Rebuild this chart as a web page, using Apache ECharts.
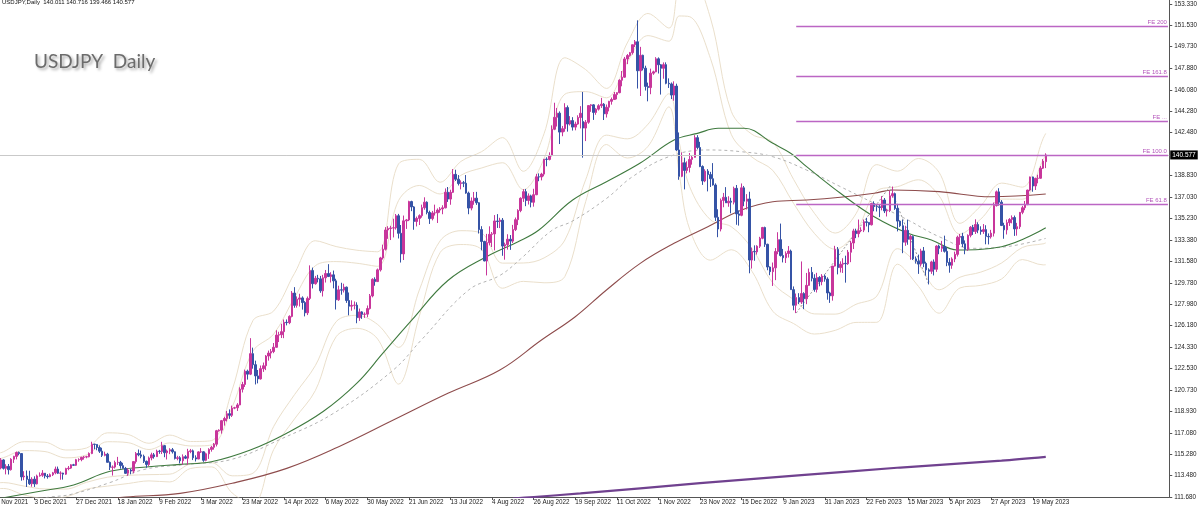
<!DOCTYPE html>
<html><head><meta charset="utf-8">
<script src="https://cdn.jsdelivr.net/npm/echarts@6/dist/echarts.min.js"></script>
<style>html,body{margin:0;padding:0;background:#fff;overflow:hidden}#c{width:1210px;height:512px;margin-left:-10px}</style>
</head><body><div id="c"></div>
<script>
// ---- candles [open, high, low, close], one row per bar (broker daily bars) ----
const nov21=[[113.91,114.16,113.78,114.06],[114.06,114.30,113.77,113.87],[113.87,114.20,113.66,114.13],[114.13,114.97,114.02,114.81],[114.81,114.87,114.00,114.10],[114.10,114.45,113.59,114.27],[114.27,114.47,113.58,113.99],[113.99,114.96,113.91,114.87],[114.87,115.16,114.56,115.11],[115.11,115.52,114.86,115.44],[115.44,115.52,115.20,115.35],[115.35,115.37,113.06,113.38],[113.38,113.86,113.10,113.45],[113.45,113.92,112.53,113.17]];
const dec21=[[113.17,113.90,112.70,112.80],[112.80,113.35,112.55,113.19],[113.19,113.43,112.53,112.79],[112.79,113.57,112.74,113.46],[113.46,113.76,113.40,113.52],[113.52,113.95,113.38,113.69],[113.69,113.70,113.25,113.45],[113.45,113.62,113.23,113.40],[113.40,113.67,113.35,113.56],[113.56,113.80,113.45,113.72],[113.72,114.25,113.60,114.04],[114.04,114.25,113.62,113.69],[113.69,113.85,113.14,113.70],[113.70,113.73,113.15,113.61],[113.61,114.15,113.55,114.08],[114.08,114.30,113.94,114.12],[114.12,114.45,114.05,114.40],[114.40,114.48,114.30,114.36],[114.36,114.90,114.30,114.83],[114.83,114.95,114.66,114.84],[114.84,115.08,114.70,115.03],[115.03,115.15,114.84,115.06],[115.06,115.16,114.95,115.08]];
const jan22=[[115.08,115.45,115.03,115.35],[115.35,116.35,115.30,116.14],[116.14,116.18,115.71,116.12],[116.12,116.14,115.63,115.86],[115.86,116.04,115.40,115.55],[115.55,115.84,115.06,115.20],[115.20,115.51,115.12,115.30],[115.30,115.41,114.60,114.61],[114.61,114.68,113.96,114.19],[114.19,114.35,113.49,114.21],[114.21,114.75,114.09,114.59],[114.59,115.07,114.39,114.61],[114.61,114.73,114.07,114.33],[114.33,114.57,114.08,114.10],[114.10,114.22,113.63,113.68],[113.68,114.10,113.47,113.96],[113.96,114.05,113.60,113.87],[113.87,114.69,113.68,114.67],[114.67,115.48,114.50,115.35],[115.35,115.69,115.12,115.24],[115.24,115.60,114.95,115.12]];
const feb22=[[115.12,115.26,114.55,114.69],[114.69,114.76,114.15,114.43],[114.43,115.10,114.30,114.98],[114.98,115.42,114.78,115.24],[115.24,115.40,114.92,115.09],[115.09,115.68,115.07,115.55],[115.55,115.66,115.33,115.53],[115.53,116.34,115.31,116.02],[116.02,116.08,115.04,115.42],[115.42,115.69,114.85,115.57],[115.57,115.80,115.30,115.67],[115.67,115.82,115.35,115.50],[115.50,115.53,114.85,114.94],[114.94,115.16,114.78,115.00],[115.00,115.13,114.52,114.74],[114.74,115.28,114.40,115.08],[115.08,115.22,114.88,114.96],[114.96,115.75,114.41,115.53],[115.53,115.74,115.38,115.58],[115.58,115.69,114.80,114.99]];
const mar22=[[114.99,115.20,114.68,114.89],[114.89,115.55,114.88,115.49],[115.49,115.81,115.40,115.50],[115.50,115.55,114.65,114.78],[114.78,115.43,114.70,115.33],[115.33,115.80,114.90,115.70],[115.70,116.00,115.51,115.88],[115.88,116.24,115.68,116.14],[116.14,117.35,115.95,117.28],[117.28,117.40,117.20,117.33],[117.33,118.19,117.03,118.13],[118.13,118.45,117.71,118.31],[118.31,118.95,118.06,118.72],[118.72,119.08,118.28,118.58],[118.58,119.40,118.44,119.19],[119.19,119.30,119.10,119.22],[119.22,119.61,118.95,119.46],[119.46,120.95,119.43,120.79],[120.79,121.41,120.51,121.19],[121.19,122.44,120.98,122.31],[122.31,122.44,121.60,122.06],[122.06,125.10,121.98,123.79],[123.79,124.30,122.52,122.86],[122.86,123.20,121.19,121.91],[121.91,122.41,121.28,121.66]];
const apr22=[[121.66,122.79,121.60,122.52],[122.52,123.04,122.25,122.77],[122.77,123.67,122.40,123.59],[123.59,124.05,123.20,123.84],[123.84,124.18,123.39,123.97],[123.97,124.69,123.83,124.33],[124.33,125.77,124.30,125.36],[125.36,125.64,124.77,125.39],[125.39,126.32,125.11,125.65],[125.65,126.68,125.10,126.44],[126.44,126.68,126.18,126.41],[126.41,127.03,126.28,126.94],[126.94,129.08,126.86,128.91],[128.91,129.41,127.67,127.87],[127.87,128.63,127.68,128.39],[128.39,128.85,127.77,128.50],[128.50,128.63,127.51,128.11],[128.11,128.23,126.94,127.24],[127.24,128.62,127.05,128.46],[128.46,131.25,128.32,130.81],[130.81,131.06,129.30,129.70]];
const may22=[[129.70,130.36,129.62,130.16],[130.16,130.45,129.81,130.11],[130.11,130.36,128.93,129.10],[129.10,130.45,128.62,130.20],[130.20,130.86,129.80,130.56],[130.56,131.35,130.26,130.31],[130.31,130.67,129.80,130.45],[130.45,130.81,129.31,129.94],[129.94,130.12,127.52,128.34],[128.34,129.53,128.25,129.18],[129.18,129.78,128.77,129.16],[129.16,129.70,128.96,129.41],[129.41,129.46,128.08,128.28],[128.28,128.96,127.03,127.80],[127.80,128.30,127.42,127.87],[127.87,128.20,127.53,127.89],[127.89,128.13,126.36,126.83],[126.83,127.60,126.56,127.32],[127.32,127.38,126.73,127.11],[127.11,127.28,126.81,127.13],[127.13,127.86,126.87,127.60],[127.60,128.83,127.52,128.67]];
const jun22=[[128.67,130.16,128.55,130.07],[130.07,130.24,129.53,129.88],[129.88,130.98,129.85,130.87],[130.87,131.97,130.73,131.88],[131.88,133.00,131.74,132.61],[132.61,134.48,132.50,134.24],[134.24,134.56,133.49,134.36],[134.36,134.59,133.39,134.41],[134.41,135.19,133.61,134.42],[134.42,135.59,134.27,135.44],[135.44,135.60,133.52,133.96],[133.96,134.66,131.49,132.22],[132.22,135.46,131.70,135.01],[135.01,135.17,134.33,135.09],[135.09,136.71,134.99,136.64],[136.64,136.71,135.83,136.19],[136.19,136.26,134.26,134.96],[134.96,135.37,134.54,135.22],[135.22,135.56,134.66,135.45],[135.45,136.38,135.28,136.12],[136.12,137.00,135.95,136.59],[136.59,136.66,135.56,135.72]];
const jul22=[[135.72,135.87,134.75,135.20],[135.20,135.85,135.05,135.68],[135.68,136.38,135.46,135.69],[135.69,136.06,134.83,135.92],[135.92,136.17,135.70,136.02],[136.02,136.33,135.57,136.11],[136.11,137.75,136.07,137.43],[137.43,137.87,136.61,136.85],[136.85,137.64,136.37,137.42],[137.42,139.39,137.36,138.94],[138.94,139.33,138.38,138.53],[138.53,138.88,138.00,138.16],[138.16,138.43,137.67,138.23],[138.23,138.38,137.86,138.19],[138.19,138.88,137.30,137.36],[137.36,137.48,135.57,136.09],[136.09,136.99,135.90,136.69],[136.69,137.45,136.37,136.93],[136.93,137.46,136.36,136.54],[136.54,136.59,133.94,134.27],[134.27,134.56,132.52,133.27]];
const aug22=[[133.27,133.33,131.60,131.62],[131.62,133.91,130.40,133.17],[133.17,134.55,132.94,133.87],[133.87,134.07,132.80,133.91],[133.91,135.50,132.52,135.00],[135.00,135.58,134.41,134.96],[134.96,135.27,134.40,135.07],[135.07,135.25,132.06,132.88],[132.88,133.17,131.73,133.00],[133.00,133.88,132.58,133.46],[133.46,133.81,132.56,133.30],[133.30,134.67,133.14,134.27],[134.27,135.29,134.15,135.11],[135.11,135.99,134.65,135.88],[135.88,137.00,135.74,136.92],[136.92,137.69,136.61,137.48],[137.48,137.70,136.25,136.73],[136.73,137.33,136.39,137.12],[137.12,137.22,136.15,136.58],[136.58,137.72,136.21,137.22],[137.22,138.98,137.18,138.73],[138.73,139.02,138.36,138.72],[138.72,139.07,138.43,138.96]];
const sep22=[[138.96,140.23,138.77,140.22],[140.22,140.38,139.62,140.20],[140.20,140.80,140.12,140.54],[140.54,143.08,140.46,142.75],[142.75,144.99,142.67,143.76],[143.76,144.55,142.98,144.11],[144.11,144.26,141.50,142.51],[142.51,143.03,142.16,142.80],[142.80,144.95,142.54,144.58],[144.58,144.76,142.55,143.19],[143.19,143.86,143.07,143.48],[143.48,143.77,142.64,142.93],[142.93,143.39,142.66,143.19],[143.19,143.93,143.13,143.74],[143.74,144.70,142.82,144.10],[143.40,145.90,140.35,142.85],[142.85,143.53,141.75,143.34],[143.34,144.78,143.21,144.75],[144.75,144.87,144.22,144.81],[144.81,144.87,143.54,144.17],[144.17,144.53,143.97,144.45],[144.45,144.87,144.33,144.74]];
const oct22=[[144.74,145.40,144.55,144.87],[144.87,144.96,143.53,144.05],[144.05,144.84,143.74,144.61],[144.61,145.15,144.26,145.11],[145.11,145.43,144.83,145.26],[145.26,145.90,145.22,145.68],[145.68,145.88,145.28,145.84],[145.84,146.97,145.79,146.89],[146.89,147.67,146.38,147.15],[147.15,148.86,147.10,148.69],[148.69,149.10,148.25,148.98],[148.98,149.28,148.88,149.22],[149.22,149.90,149.06,149.89],[149.89,150.29,149.69,150.14],[150.14,151.95,146.19,147.69],[147.69,149.71,145.56,149.00],[149.00,149.05,147.72,147.91],[147.91,148.12,146.02,146.37],[146.37,146.69,145.11,146.27],[146.27,147.87,145.71,147.49],[147.49,147.70,147.35,147.60],[147.60,148.84,147.57,148.70]];
const nov22=[[148.70,148.82,147.46,148.20],[148.20,148.26,145.68,147.90],[147.90,148.40,147.02,148.21],[148.21,148.40,146.55,146.63],[146.63,147.05,146.24,146.58],[146.58,146.70,145.30,145.64],[145.64,146.80,145.16,146.40],[146.40,146.60,140.92,141.00],[141.00,142.48,138.48,138.77],[138.77,140.79,138.70,139.92],[139.92,140.35,137.67,139.27],[139.27,140.04,139.02,139.52],[139.52,140.74,139.10,140.20],[140.20,140.50,139.76,140.38],[140.38,142.25,140.36,142.04],[142.04,142.25,141.05,141.21],[141.21,141.69,139.55,139.60],[139.60,139.70,138.05,138.38],[138.38,139.37,138.28,139.21],[139.21,139.38,137.50,138.92],[138.92,139.15,137.87,138.57],[138.57,139.89,137.99,138.04]];
const dec22=[[138.04,138.18,135.00,135.31],[135.31,135.99,133.63,134.32],[134.32,136.90,134.12,136.74],[136.74,137.37,136.16,137.00],[137.00,137.86,136.53,136.53],[136.53,137.09,136.20,136.67],[136.67,136.96,135.65,136.59],[136.59,137.90,136.40,137.76],[137.76,138.04,134.68,135.60],[135.60,135.89,134.61,135.48],[135.48,138.17,135.40,137.80],[137.80,137.96,136.25,136.67],[136.67,137.27,135.97,136.86],[136.86,137.47,130.58,131.70],[131.70,132.75,130.98,132.42],[132.42,132.94,131.64,132.39],[132.39,132.95,132.16,132.87],[132.87,133.66,132.72,133.54],[133.54,134.50,133.46,134.45],[134.45,134.52,132.81,133.03],[133.03,133.08,130.84,131.11]];
const jan23=[[131.11,131.16,130.42,130.72],[130.72,131.49,129.51,131.04],[131.04,132.71,130.00,132.42],[132.42,134.05,132.19,133.42],[133.42,134.78,131.99,132.08],[132.08,132.64,131.50,131.89],[131.89,132.43,131.45,132.25],[132.25,132.88,131.91,132.46],[132.46,132.58,129.19,129.20],[129.20,129.47,127.46,127.88],[127.88,128.87,127.22,128.53],[128.53,128.90,127.98,128.15],[128.15,131.58,127.99,128.87],[128.87,128.98,127.55,128.43],[128.43,130.61,127.97,129.56],[129.56,130.98,129.52,130.66],[130.66,131.11,129.90,130.16],[130.16,130.50,129.02,129.22],[129.22,130.62,128.96,130.23],[130.23,130.34,129.48,129.87],[129.87,130.51,129.57,130.35],[130.35,130.48,129.87,130.09]];
const feb23=[[130.09,130.24,128.35,128.92],[128.92,129.02,128.08,128.68],[128.68,131.20,128.27,131.19],[131.19,132.90,131.15,132.60],[132.60,132.80,130.49,131.06],[131.06,131.59,130.65,131.35],[131.35,131.85,130.61,131.42],[131.42,132.07,129.79,131.39],[131.39,132.55,131.29,132.36],[132.36,133.32,131.52,133.14],[133.14,134.34,132.63,134.16],[134.16,134.35,133.55,133.93],[133.93,135.12,133.62,134.18],[134.18,134.47,134.05,134.23],[134.23,135.12,134.06,134.93],[134.93,135.27,134.54,134.88],[134.88,134.90,134.05,134.68],[134.68,136.52,134.62,136.47],[136.47,136.66,135.82,136.22],[136.22,136.42,135.80,136.20]];
const mar23=[[136.20,136.36,135.33,136.14],[136.14,137.10,135.90,136.77],[136.77,136.94,135.67,135.85],[135.85,136.03,135.38,135.88],[135.88,137.56,135.75,137.13],[137.13,137.91,136.97,137.31],[137.31,137.40,135.94,136.06],[136.06,136.45,134.12,134.99],[134.99,135.05,134.50,134.60],[134.60,135.11,132.28,133.21],[133.21,134.60,132.90,134.21],[134.21,135.11,132.99,133.45],[133.45,133.82,131.73,133.69],[133.69,133.78,131.70,131.80],[131.80,132.00,131.40,131.60],[131.60,132.16,130.53,131.36],[131.36,132.65,131.15,132.47],[132.47,132.80,131.10,131.42],[131.42,131.56,130.40,130.87],[130.87,131.00,129.64,130.75],[130.75,131.64,130.53,131.54],[131.54,131.75,130.40,130.92],[130.92,132.95,130.70,132.88],[132.88,133.00,132.19,132.69],[132.69,133.32,132.39,132.86]];
const apr23=[[132.86,133.76,132.33,132.44],[132.44,132.77,131.18,131.50],[131.50,131.86,130.63,131.26],[131.26,131.93,130.96,131.79],[131.79,132.41,131.52,132.18],[132.18,133.76,132.00,133.63],[133.63,133.90,132.98,133.70],[133.70,134.00,132.80,133.07],[133.07,133.36,132.19,132.59],[132.59,133.87,132.47,133.79],[133.79,134.57,133.62,134.47],[134.47,134.67,133.82,134.11],[134.11,135.14,133.90,134.70],[134.70,134.89,133.97,134.23],[134.23,134.55,133.84,134.11],[134.11,134.74,133.91,134.27],[134.27,134.64,133.03,133.70],[133.70,133.95,133.02,133.66],[133.66,134.25,133.51,133.97],[133.97,136.56,133.69,136.30]];
const may23=[[136.30,137.57,136.22,137.46],[137.46,137.77,136.30,136.59],[136.59,136.76,134.57,134.62],[134.62,134.85,133.50,134.25],[134.25,135.12,133.86,134.86],[134.86,135.24,134.58,135.13],[135.13,135.47,134.80,135.29],[135.29,135.46,133.74,134.33],[134.33,134.84,133.76,134.52],[134.52,135.76,134.33,135.73],[135.73,136.28,135.57,136.12],[136.12,136.69,135.91,136.38],[136.38,137.64,136.34,137.61],[137.61,138.75,137.51,138.72],[138.72,138.75,137.47,137.96],[137.96,138.65,137.62,138.60],[138.60,138.91,138.18,138.61],[138.61,139.64,138.57,139.46],[139.46,140.23,139.39,140.06],[140.011,140.716,139.466,140.577]];

// ---- x-axis tick labels (one every 16 bars in the terminal) ----
const xTickLabels=["11 Nov 2021","3 Dec 2021","27 Dec 2021","18 Jan 2022","9 Feb 2022","3 Mar 2022","23 Mar 2022","14 Apr 2022","6 May 2022","30 May 2022","21 Jun 2022","13 Jul 2022","4 Aug 2022","26 Aug 2022","19 Sep 2022","11 Oct 2022","1 Nov 2022","23 Nov 2022","15 Dec 2022","9 Jan 2023","31 Jan 2023","22 Feb 2023","15 Mar 2023","5 Apr 2023","27 Apr 2023","19 May 2023"];
const xTickEvery=16;
const emptySlots=47; // chart shift space on the right

// ---- price scale labels ----
const yTickLabels=[153.330,151.530,149.730,147.880,146.080,144.280,142.480,138.830,137.030,135.230,133.380,131.580,129.780,127.980,126.180,124.330,122.530,120.730,118.930,117.080,115.280,113.480,111.680];

// ---- indicator lines: [bar, price] ----
const maGreen=[[0,111.45],[3,111.57],[17,112.13],[31,112.7],[45,113.85],[60,114.24],[72,114.44],[84,114.66],[99,115.65],[113,117.07],[127,118.9],[140,121.3],[150,123.83],[161,126.6],[175,129.97],[190,132.0],[202,133.25],[210,134.24],[223,136.77],[236,138.32],[249,139.9],[262,141.84],[271,142.4],[279,142.83],[289,142.83],[300,141.56],[307,140.7],[313,139.59],[326,137.34],[339,135.36],[352,133.96],[361,133.4],[371,132.55],[388,132.83],[405,134.43]];
const maMaroon=[[45,111.5],[51,111.68],[72,111.99],[92,112.84],[113,114.1],[133,115.93],[154,118.18],[175,120.44],[195,122.41],[211,124.94],[224,126.91],[236,129.17],[249,131.42],[262,133.11],[275,134.52],[288,135.93],[300,136.63],[313,136.77],[326,137.0],[339,137.34],[346,137.62],[364,137.48],[384,137.05],[405,137.28]];
const maPurple=[[200,111.55],[208,111.68],[226,111.98],[272,112.85],[311,113.52],[349,114.17],[388,114.75],[405,115.07]];
const maDashed=[[18,111.55],[22,111.68],[30,111.9],[45,112.9],[58,114.0],[75,114.44],[92,114.87],[111,116.6],[131,118.75],[154,122.41],[165,125.0],[183,129.17],[195,130.4],[203,131.8],[215,134.2],[223,135.0],[236,136.9],[246,138.74],[260,140.43],[275,141.0],[288,140.85],[300,140.43],[313,139.3],[326,137.9],[339,136.49],[352,135.08],[364,133.67],[377,132.69],[390,132.83],[405,133.53]];

// Bollinger bands (two widths), sampled bars
const bbBars=[0,4,12,20,28,36,44,52,60,68,76,84,92,100,108,116,124,132,140,148,156,164,172,180,188,196,204,212,220,228,236,244,252,260,264,268,276,284,292,300,308,316,324,332,340,348,356,364,372,380,388,396,404,405];
const bbUpOuter=[115.25,115.5,116.35,116.31,115.65,115.82,117.10,116.96,116.22,116.91,116.37,116.44,120.72,126.59,127.40,130.58,133.33,132.84,132.53,132.40,139.82,140.21,138.27,140.03,140.86,142.04,139.20,142.38,148.79,147.79,146.20,150.04,152.53,151.30,154.99,155.85,152.15,144.27,142.32,141.65,138.51,135.65,133.98,135.61,139.76,139.21,140.28,139.09,134.80,136.28,138.20,137.86,141.97,142.40];
const bbUpInner=[114.75,115.0,115.6,115.52,114.99,115.24,116.35,116.27,115.69,116.25,115.99,116.07,119.27,124.01,125.45,128.53,131.22,131.57,131.43,131.17,136.72,138.00,137.28,138.86,139.48,139.92,137.65,140.28,145.71,145.93,145.41,148.42,150.66,150.19,152.32,152.26,148.74,142.32,140.39,139.27,136.48,133.95,132.61,134.08,137.54,137.90,138.48,137.11,133.89,135.16,136.85,136.84,140.19,140.55];
const bbLoInner=[112.85,112.9,112.6,112.36,112.35,112.92,113.35,113.51,113.57,113.61,114.47,114.59,113.47,113.69,117.65,120.33,122.78,126.49,127.03,126.25,124.32,129.16,133.32,134.18,133.96,131.44,131.45,131.88,133.39,138.49,142.25,141.94,143.18,145.75,141.64,137.90,135.10,134.52,132.67,129.75,128.36,127.15,127.13,127.96,128.66,132.66,131.28,129.19,130.25,130.68,131.45,132.76,133.07,133.15];
const bbLoOuter=[112.35,112.4,111.85,111.57,111.69,112.34,112.60,112.82,113.04,112.95,114.09,114.22,112.02,111.11,115.70,118.28,120.67,125.22,125.93,125.02,121.22,126.95,132.33,133.01,132.58,129.32,129.90,129.78,130.31,136.63,141.46,140.32,141.31,144.64,138.97,134.31,131.69,132.57,130.74,127.37,126.33,125.45,125.76,126.43,126.44,131.35,129.48,127.21,129.34,129.56,130.10,131.74,131.29,131.30];

// Fibonacci expansion: A, B, C anchors and the drawn levels
const feAnchorBars=[309,345,360];
const feAnchorPrices=[127.22,137.91,129.64];
const feLevels=[151.42,147.25,143.46,140.55,136.39];
const feLabels=['FE 200','FE 161.8','FE ...','FE 100.0','FE 61.8'];

// ---------------------------------------------------------------
const bars=[].concat(nov21,dec21,jan22,feb22,mar22,apr22,may22,jun22,jul22,aug22,sep22,oct22,nov22,dec22,jan23,feb23,mar23,apr23,may23);
const candleData=bars.map(r=>[r[0],r[3],r[2],r[1]]);
const slotCount=bars.length+emptySlots;
const categories=Array.from({length:slotCount},(_,i)=>String(i));
const last=bars[bars.length-1];
const lastIdx=slotCount-1;
const pair=(xs,ys)=>xs.map((x,i)=>[x,ys[i]]);
const FONT='Liberation Sans';
const OFF=10; // the chart canvas starts 10px left of the visible page

const bbStyle={color:'#eadfcb',width:1};
function bbSeries(vals){return {type:'line',data:pair(bbBars,vals),smooth:0.35,showSymbol:false,silent:true,lineStyle:bbStyle,z:1,animation:false};}

const chart=echarts.init(document.getElementById('c'),null,{renderer:'canvas'});
chart.setOption({
  animation:false,
  backgroundColor:'#ffffff',
  grid:{left:0.5,right:30,top:0,bottom:15,containLabel:false},
  xAxis:{type:'category',data:categories,boundaryGap:true,
    axisLine:{show:true,lineStyle:{color:'#555',width:1}},
    axisTick:{show:true,alignWithLabel:true,length:3,lineStyle:{color:'#555'},
      interval:(i)=>i%xTickEvery===0&&i/xTickEvery<xTickLabels.length},
    axisLabel:{show:true,align:'left',margin:2,fontSize:6.3,fontFamily:FONT,color:'#222',
      interval:(i)=>i%xTickEvery===0&&i/xTickEvery<xTickLabels.length,
      formatter:(v,i)=>xTickLabels[Math.round(i/xTickEvery)]||''},
    splitLine:{show:false}},
  yAxis:{type:'value',position:'right',min:111.68,max:153.67,scale:true,
    axisLine:{show:true,lineStyle:{color:'#555',width:1}},
    axisTick:{show:true,length:3,lineStyle:{color:'#555'},customValues:yTickLabels},
    axisLabel:{show:true,margin:5,fontSize:6.3,fontFamily:FONT,color:'#222',customValues:yTickLabels,
      formatter:(v)=>Number(v).toFixed(3)},
    splitLine:{show:false}},
  graphic:[
    {type:'text',left:2+OFF,top:-1,z:100,style:{text:'USDJPY,Daily  140.011 140.716 139.466 140.577',font:'6px "Liberation Sans"',fill:'#111'}},
    {type:'text',left:34+OFF,top:52,z:100,style:{text:'USDJPY  Daily',font:'19px Lato',fill:'#6c6c6c',
      textShadowColor:'rgba(0,0,0,0.35)',textShadowBlur:3,textShadowOffsetX:2,textShadowOffsetY:2}}
  ],
  series:[
    bbSeries(bbUpOuter),bbSeries(bbUpInner),bbSeries(bbLoInner),bbSeries(bbLoOuter),
    {type:'line',data:maDashed,smooth:0.4,showSymbol:false,silent:true,z:2,lineStyle:{color:'#b3b3b3',width:1,type:[3,3]}},
    {type:'line',data:maPurple,smooth:0.3,showSymbol:false,silent:true,z:2,lineStyle:{color:'#70418f',width:2.2}},
    {type:'line',data:maMaroon,smooth:0.4,showSymbol:false,silent:true,z:2,lineStyle:{color:'#8e4c4c',width:1.1}},
    {type:'line',data:maGreen,smooth:0.4,showSymbol:false,silent:true,z:2,lineStyle:{color:'#3f7a3f',width:1.1}},
    {type:'line',data:pair(feAnchorBars,feAnchorPrices),showSymbol:false,silent:true,z:2,lineStyle:{color:'#9a9a9a',width:1,type:[2,2]}},
    {type:'candlestick',data:candleData,barWidth:2,z:4,
      itemStyle:{color:'#c8369b',color0:'#3553a6',borderColor:'#c8369b',borderColor0:'#3553a6',borderColorDoji:'#8a7aa8',borderWidth:1},
      markLine:{silent:true,symbol:['none','none'],animation:false,
        data:[
          {yAxis:last[3],lineStyle:{color:'#c9c9c9',width:1,type:'solid'},
            label:{show:true,position:'end',distance:1,formatter:last[3].toFixed(3),color:'#fff',backgroundColor:'#000',padding:[1,2,1,2],fontSize:6.5,fontFamily:FONT}}
        ].concat(feLevels.map((v,i)=>[
          {coord:[feAnchorBars[0],v],lineStyle:{color:'#bb66c4',width:1.4,type:'solid'},
            label:{show:true,position:'insideEndTop',distance:[1,1],formatter:feLabels[i],color:'#b455bb',fontSize:6,fontFamily:FONT}},
          {coord:[lastIdx,v]}
        ]))
      }}
  ]
});
</script>
</body></html>
